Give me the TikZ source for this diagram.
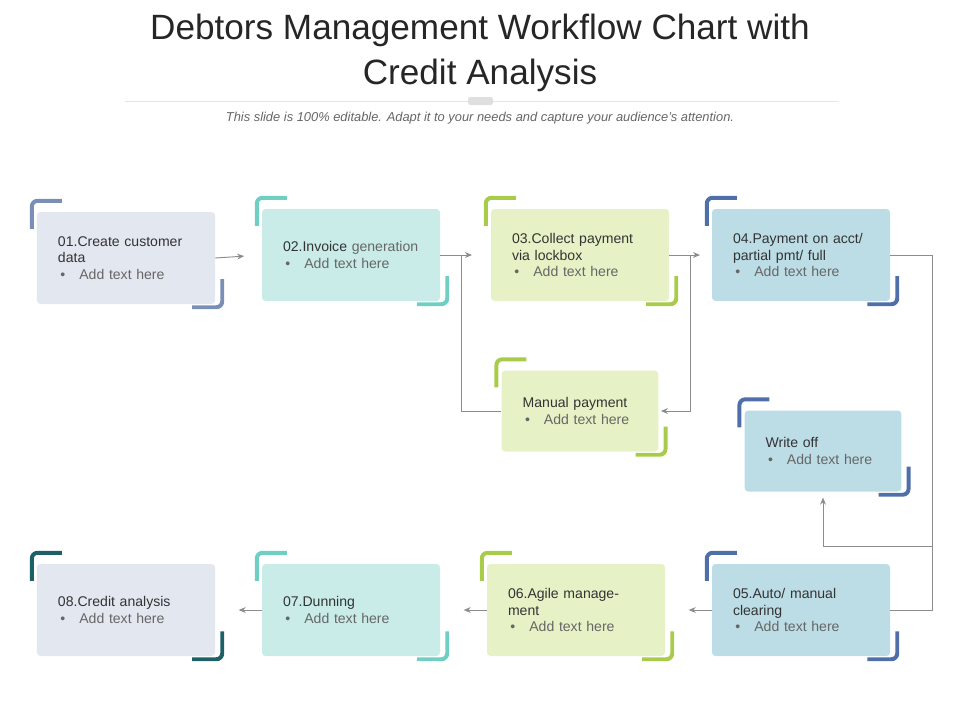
\documentclass[tikz,border=0pt]{standalone}
\usepackage{fontspec}
\setmainfont{Liberation Sans}
\usetikzlibrary{arrows.meta}
\definecolor{slate}{HTML}{7A8FB5}
\definecolor{teal}{HTML}{6FCFC2}
\definecolor{lime}{HTML}{A8CC4A}
\definecolor{steel}{HTML}{4F6FA8}
\definecolor{deep}{HTML}{1E6068}
\definecolor{fgrey}{HTML}{E3E7F0}
\definecolor{fteal}{HTML}{C9ECE8}
\definecolor{flime}{HTML}{E6F2C6}
\definecolor{fsteel}{HTML}{BCDDE6}
\definecolor{txt}{HTML}{333333}
\definecolor{sub}{HTML}{666666}
\newcommand{\addtext}{\par\color{sub}\hspace*{2pt}\textbullet\hspace{12pt}Add text here}
\newcommand{\brk}[2]{%
  \draw[brkline,#2] ([shift={(-5,17)}]#1.north west) -- ++(0,-28) -- ++(30,0);
  \draw[brkline,#2] ([shift={(7,-25)}]#1.south east) -- ++(0,28) -- ++(-30,0);}
\begin{document}
\begin{tikzpicture}[x=0.03cm,y=-0.03cm,
  box/.style={rectangle,rounded corners=3pt,minimum width=5.34cm,minimum height=2.76cm,
    inner xsep=0.63cm,text width=4.08cm,align=left,font=\fontsize{12}{14}\selectfont,text=txt},
  sbox/.style={box,minimum width=4.7cm,minimum height=2.43cm,text width=3.44cm},
  brkline/.style={line width=3.4pt,rounded corners=5pt},
  conn/.style={draw=gray!90,line width=0.8pt},
  arr/.style={conn,-{Stealth[length=6pt,width=5pt]}}]
\useasboundingbox (0,0) rectangle (960,720);
% title
\node[font=\fontsize{30}{36}\selectfont,text=black!85] (t1) at (480,30) {Debtors Management Workflow Chart with};
\node[font=\fontsize{30}{36}\selectfont,text=black!85] (t2) at (480,75) {Credit Analysis};
\draw[gray!20,line width=0.6pt] (125,101) -- (838,101);
\fill[gray!25,rounded corners=2pt] (468,97) rectangle (493,105);
\node[font=\fontsize{11}{13}\selectfont\itshape,text=sub] (st) at (480,118) {This slide is 100\% editable. Adapt it to your needs and capture your audience's attention.};
% boxes
\node[box,fill=fgrey] (b1) at (126,258) {01.Create customer data\addtext};
\node[box,fill=fteal] (b2) at (351,255) {02.Invoice \textcolor{sub}{generation}\addtext};
\node[box,fill=flime] (b3) at (580,255) {03.Collect payment via lockbox\addtext};
\node[box,fill=fsteel] (b4) at (801,255) {04.Payment on acct/ partial pmt/ full\addtext};
\node[sbox,fill=flime] (mp) at (580,411) {Manual payment\addtext};
\node[sbox,fill=fsteel] (wo) at (823,451) {Write off\addtext};
\node[box,fill=fsteel] (b5) at (801,610) {05.Auto/ manual clearing\addtext};
\node[box,fill=flime] (b6) at (576,610) {06.Agile management\addtext};
\node[box,fill=fteal] (b7) at (351,610) {07.Dunning\addtext};
\node[box,fill=fgrey] (b8) at (126,610) {08.Credit analysis\addtext};
\brk{b1}{slate} \brk{b2}{teal} \brk{b3}{lime} \brk{b4}{steel}
\brk{mp}{lime} \brk{wo}{steel} \brk{b5}{steel} \brk{b6}{lime}
\brk{b7}{teal} \brk{b8}{deep}
% connectors
\coordinate (j1) at (461,255);
\coordinate (j2) at (690,255);
\coordinate (j3) at (932,546);
\draw[arr,shorten >=15pt] (b1.east) -- (b2.west);
\draw[arr,shorten >=16pt] (b2.east) -- (b3.west);
\draw[conn] (j1) |- (mp.west);
\draw[arr,shorten >=10pt] (b3.east) -- (b4.west);
\draw[arr,shorten >=2pt] (j2) |- (mp.east);
\draw[conn] (b4.east) -| (j3) |- (b5.east);
\draw[arr,shorten >=5pt] (j3) -| (wo.south);
\draw[arr,shorten >=20pt] (b5.west) -- (b6.east);
\draw[arr,shorten >=20pt] (b6.west) -- (b7.east);
\draw[arr,shorten >=20pt] (b7.west) -- (b8.east);
\end{tikzpicture}
\end{document}
